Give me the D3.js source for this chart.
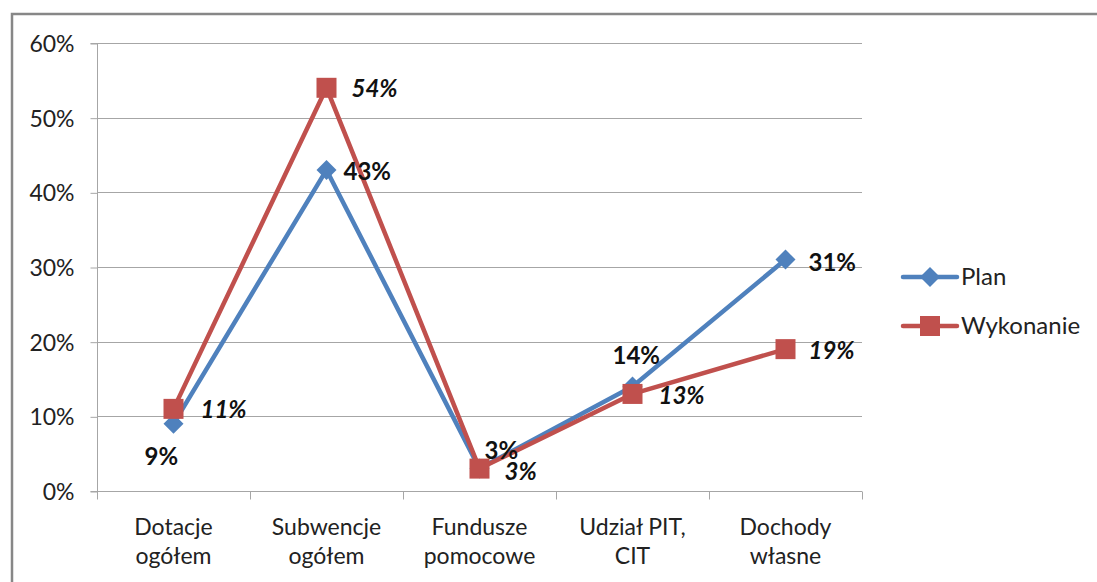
<!DOCTYPE html>
<html><head><meta charset="utf-8">
<script src="https://cdn.jsdelivr.net/npm/d3@7"></script>
<style>
html,body{margin:0;padding:0;background:#fff;}
text{font-family:Lato,"Open Sans",sans-serif;}
</style></head>
<body>
<svg id="c" width="1097" height="582"></svg>
<script>
const categories = [["Dotacje","ogółem"],["Subwencje","ogółem"],["Fundusze","pomocowe"],["Udział PIT,","CIT"],["Dochody","własne"]];
const planValues = [0.09, 0.43, 0.03, 0.14, 0.31];
const wykonanieValues = [0.11, 0.54, 0.03, 0.13, 0.19];
const seriesNames = ["Plan", "Wykonanie"];
const yTicks = [0, 0.1, 0.2, 0.3, 0.4, 0.5, 0.6];

(function(){
const svg = d3.select("#c");
const blue = "#4F81BD", red = "#C0504D";
const pL = 97, pR = 862, pT = 43, pB = 491;

svg.append("path").attr("d","M12,582 V14 H1097").attr("fill","none").attr("stroke","#878787").attr("stroke-width",2.5);

const x = d3.scaleBand().domain(d3.range(categories.length)).range([pL,pR]);
const y = d3.scaleLinear().domain([0,0.6]).range([pB,pT]);

svg.append("g").selectAll("line").data(yTicks.slice(1)).join("line")
  .attr("x1",pL).attr("x2",pR).attr("y1",d=>Math.round(y(d))+0.5).attr("y2",d=>Math.round(y(d))+0.5)
  .attr("stroke","#A6A6A6").attr("stroke-width",1);

const yAxis = d3.axisLeft(y).tickValues(yTicks).tickFormat(d3.format(".0%")).tickSize(7).tickPadding(16);
const gy = svg.append("g").attr("transform",`translate(${pL+0.5},0.5)`).call(yAxis);
gy.select(".domain").attr("stroke","#A6A6A6").attr("d",`M-7,${pB}H0V${pT}H-7`);
gy.selectAll(".tick line").attr("stroke","#A6A6A6");
gy.selectAll(".tick text").attr("font-size",23).attr("fill","#222").attr("dy","0.35em");

const gx = svg.append("g").attr("transform",`translate(0,${pB+0.5})`);
gx.append("line").attr("x1",pL).attr("x2",pR).attr("stroke","#A6A6A6");
const bounds = d3.range(categories.length+1).map(i => i<categories.length ? x(i) : x(categories.length-1)+x.bandwidth());
gx.selectAll("line.t").data(bounds).join("line").attr("class","t")
  .attr("x1",d=>Math.round(d)+0.5).attr("x2",d=>Math.round(d)+0.5).attr("y1",0).attr("y2",8).attr("stroke","#A6A6A6");
const lab = gx.selectAll("text").data(categories).join("text")
  .attr("x",(d,i)=>x(i)+x.bandwidth()/2).attr("y",43)
  .attr("text-anchor","middle").attr("font-size",23).attr("fill","#222");
lab.each(function(d){
  const t=d3.select(this);
  d.forEach((s,k)=>t.append("tspan").attr("x",t.attr("x")).attr("dy",k?29:0).text(s));
});

const cx = i => x(i)+x.bandwidth()/2;
const line = d3.line().x((d,i)=>cx(i)).y(d=>y(d));

svg.append("path").datum(planValues).attr("d",line).attr("fill","none").attr("stroke",blue).attr("stroke-width",4.5).attr("stroke-linejoin","round");
svg.append("path").datum(wykonanieValues).attr("d",line).attr("fill","none").attr("stroke",red).attr("stroke-width",4.5).attr("stroke-linejoin","round");

const diamond = (g, px, py) => g.append("path").attr("d",`M${px},${py-10}L${px+10},${py}L${px},${py+10}L${px-10},${py}Z`).attr("fill",blue);
const square = (g, px, py) => g.append("rect").attr("x",px-10).attr("y",py-10).attr("width",20).attr("height",20).attr("fill",red);

const mk = svg.append("g");
planValues.forEach((v,i)=>diamond(mk,cx(i),y(v)));
wykonanieValues.forEach((v,i)=>square(mk,cx(i),y(v)));

const pct = d3.format(".0%");
const planOff = [[-29,41],[17,10],[5,-10],[-20,-22],[23,11]];
const wykOff = [[27,9],[25,9],[25,11],[26,10],[23,10]];
const lg = svg.append("g").attr("font-size",24).attr("font-weight","bold").attr("fill","#111");
planValues.forEach((v,i)=>lg.append("text").attr("x",cx(i)+planOff[i][0]).attr("y",y(v)+planOff[i][1]).text(pct(v)));
wykonanieValues.forEach((v,i)=>lg.append("text").attr("x",cx(i)+wykOff[i][0]).attr("y",y(v)+wykOff[i][1]).attr("font-style","italic").text(pct(v)));

const leg = svg.append("g");
const ly = [277, 326];
[blue, red].forEach((c,k)=>{
  leg.append("line").attr("x1",903).attr("x2",957).attr("y1",ly[k]).attr("y2",ly[k]).attr("stroke",c).attr("stroke-width",4.5).attr("stroke-linecap","round");
  if(k===0) diamond(leg,930,ly[k]); else square(leg,930,ly[k]);
  leg.append("text").attr("x",961).attr("y",ly[k]).attr("dy","0.35em").attr("font-size",24).attr("fill","#222").text(seriesNames[k]);
});
})();
</script>
</body></html>
